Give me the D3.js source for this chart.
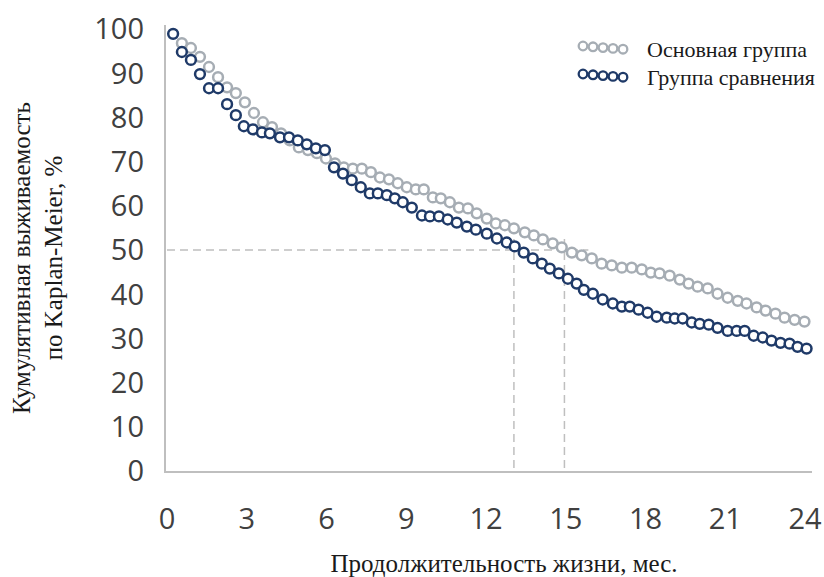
<!DOCTYPE html>
<html>
<head>
<meta charset="utf-8">
<script src="https://cdn.jsdelivr.net/npm/d3@7"></script>
<style>
  body { margin: 0; background: #fff; }
  svg text { font-family: "Open Sans", "Liberation Sans", sans-serif; }
  .serif { font-family: "Liberation Serif", "DejaVu Serif", serif !important; }
</style>
</head>
<body>
<div id="chart"></div>
<script>
// series data (months, survival %)
const mainMonths = [0.56, 0.90, 1.24, 1.58, 1.92, 2.26, 2.59, 2.93, 3.27, 3.61, 3.95, 4.29, 4.62, 4.96, 5.30, 5.64, 5.98, 6.32, 6.65, 6.99, 7.33, 7.67, 8.01, 8.35, 8.68, 9.02, 9.36, 9.66, 10.0, 10.3, 10.64, 10.98, 11.32, 11.65, 12.03, 12.37, 12.71, 13.05, 13.46, 13.80, 14.14, 14.51, 14.85, 15.23, 15.60, 15.98, 16.35, 16.73, 17.11, 17.48, 17.86, 18.20, 18.53, 18.91, 19.29, 19.62, 19.96, 20.34, 20.71, 21.09, 21.47, 21.80, 22.18, 22.52, 22.89, 23.23, 23.61, 23.98];
const mainValues = [96.8, 95.7, 93.7, 91.4, 89.1, 86.8, 85.5, 83.4, 81.0, 78.9, 77.8, 76.4, 74.8, 73.2, 72.6, 71.9, 70.7, 69.6, 68.7, 68.4, 68.4, 67.6, 66.4, 66.0, 65.1, 64.2, 63.7, 63.7, 61.9, 61.7, 60.8, 59.6, 59.4, 58.3, 57.1, 56.0, 55.6, 54.9, 54.0, 53.3, 52.4, 51.5, 50.6, 49.4, 48.8, 48.1, 46.9, 46.5, 46.0, 46.0, 45.6, 44.9, 44.7, 44.2, 43.3, 42.4, 41.7, 41.3, 40.1, 39.2, 38.5, 37.9, 37.0, 36.3, 35.6, 34.7, 34.2, 33.8];

const compMonths = [0.23, 0.56, 0.90, 1.24, 1.58, 1.92, 2.26, 2.59, 2.89, 3.23, 3.57, 3.87, 4.25, 4.59, 4.92, 5.26, 5.60, 5.94, 6.28, 6.62, 6.95, 7.29, 7.63, 7.93, 8.27, 8.57, 8.87, 9.21, 9.59, 9.89, 10.23, 10.56, 10.90, 11.28, 11.62, 12.03, 12.41, 12.78, 13.08, 13.42, 13.76, 14.10, 14.40, 14.74, 15.08, 15.41, 15.68, 16.02, 16.39, 16.77, 17.11, 17.41, 17.74, 18.08, 18.42, 18.80, 19.10, 19.40, 19.74, 20.04, 20.38, 20.71, 21.09, 21.43, 21.73, 22.07, 22.41, 22.74, 23.08, 23.42, 23.72, 24.06];
const compValues = [98.9, 94.8, 93.0, 89.8, 86.6, 86.6, 83.0, 80.5, 78.0, 77.3, 76.6, 76.4, 75.5, 75.5, 74.8, 73.9, 73.0, 72.6, 68.7, 67.3, 65.8, 64.2, 62.8, 62.8, 62.4, 61.7, 60.8, 59.6, 57.8, 57.6, 57.6, 56.9, 56.2, 55.3, 54.6, 53.7, 52.6, 51.7, 50.8, 49.4, 48.1, 46.9, 45.8, 44.7, 43.5, 42.4, 41.0, 40.1, 38.8, 37.9, 37.2, 37.2, 36.5, 35.8, 34.9, 34.7, 34.5, 34.5, 33.6, 33.3, 33.1, 32.4, 31.7, 31.7, 31.7, 30.6, 30.2, 29.5, 29.0, 28.8, 28.1, 27.7];

const seriesNames = ["Основная группа", "Группа сравнения"];
const xTicks = [0, 3, 6, 9, 12, 15, 18, 21, 24];
const yTicks = [0, 10, 20, 30, 40, 50, 60, 70, 80, 90, 100];
const medianMonths = [13.05, 14.95];   // medians of the two groups
const medianLevel = 50;

const width = 824, height = 577;
const colors = ["#a6adb4", "#1f3a68"];

const svg = d3.select("#chart").append("svg")
    .attr("width", width)
    .attr("height", height);

const x = d3.scaleLinear().domain([0, 24]).range([167, 805]);
const y = d3.scaleLinear().domain([0, 100]).range([471, 29]);

// axis lines
svg.append("line")
    .attr("x1", 165).attr("x2", 165)
    .attr("y1", y(100) - 4).attr("y2", y(0) + 1)
    .attr("stroke", "#bfbfbf").attr("stroke-width", 2);
svg.append("line")
    .attr("x1", 164).attr("x2", 812)
    .attr("y1", y(0) + 1).attr("y2", y(0) + 1)
    .attr("stroke", "#bfbfbf").attr("stroke-width", 2);

// tick labels
svg.selectAll(".ylab")
    .data(yTicks)
    .join("text")
    .attr("class", "ylab")
    .attr("x", 144)
    .attr("y", d => y(d))
    .attr("dy", "0.36em")
    .attr("text-anchor", "end")
    .attr("font-size", 29)
    .attr("fill", "#404040")
    .text(d => d);

svg.selectAll(".xlab")
    .data(xTicks)
    .join("text")
    .attr("class", "xlab")
    .attr("x", d => x(d))
    .attr("y", 519)
    .attr("dy", "0.36em")
    .attr("text-anchor", "middle")
    .attr("font-size", 29)
    .attr("fill", "#404040")
    .text(d => d);

// median reference lines
const dash = "8,5";
svg.append("line")
    .attr("x1", x(0)).attr("x2", x(15.85))
    .attr("y1", y(medianLevel)).attr("y2", y(medianLevel))
    .attr("stroke", "#bfbfbf").attr("stroke-width", 1.5)
    .attr("stroke-dasharray", dash);
svg.selectAll(".med")
    .data(medianMonths)
    .join("line")
    .attr("class", "med")
    .attr("x1", d => x(d)).attr("x2", d => x(d))
    .attr("y1", y(52.5)).attr("y2", y(0))
    .attr("stroke", "#bfbfbf").attr("stroke-width", 1.5)
    .attr("stroke-dasharray", dash);

// series markers
const series = [
    mainMonths.map((m, i) => ({ m, v: mainValues[i] })),
    compMonths.map((m, i) => ({ m, v: compValues[i] }))
];
series.forEach((pts, k) => {
    svg.append("g")
        .selectAll("circle")
        .data(pts)
        .join("circle")
        .attr("cx", d => x(d.m))
        .attr("cy", d => y(d.v))
        .attr("r", 4.9)
        .attr("fill", "#fff")
        .attr("stroke", colors[k])
        .attr("stroke-width", 2.5);
});

// legend
const legend = svg.append("g");
seriesNames.forEach((name, k) => {
    const ly = 46 + k * 28;
    legend.selectAll(".lm" + k)
        .data(d3.range(5))
        .join("circle")
        .attr("cx", i => 583 + i * 10)
        .attr("cy", i => ly + i * 0.8)
        .attr("r", 4.3)
        .attr("fill", "#fff")
        .attr("stroke", colors[k])
        .attr("stroke-width", 2.3);
    legend.append("text")
        .attr("class", "serif")
        .attr("x", 647)
        .attr("y", ly + 4)
        .attr("dy", "0.3em")
        .attr("font-size", 22)
        .attr("fill", "#1a1a1a")
        .text(name);
});

// axis titles
svg.append("text")
    .attr("class", "serif")
    .attr("x", 504)
    .attr("y", 563)
    .attr("dy", "0.35em")
    .attr("text-anchor", "middle")
    .attr("font-size", 25)
    .attr("fill", "#1a1a1a")
    .text("Продолжительность жизни, мес.");

const yTitle = svg.append("text")
    .attr("class", "serif")
    .attr("transform", "translate(39,258) rotate(-90)")
    .attr("text-anchor", "middle")
    .attr("font-size", 25)
    .attr("fill", "#1a1a1a");
yTitle.append("tspan").attr("x", 0).attr("dy", "-0.35em").text("Кумулятивная выживаемость");
yTitle.append("tspan").attr("x", 0).attr("dy", "1.25em").text("по Kaplan-Meier, %");
</script>
</body>
</html>
